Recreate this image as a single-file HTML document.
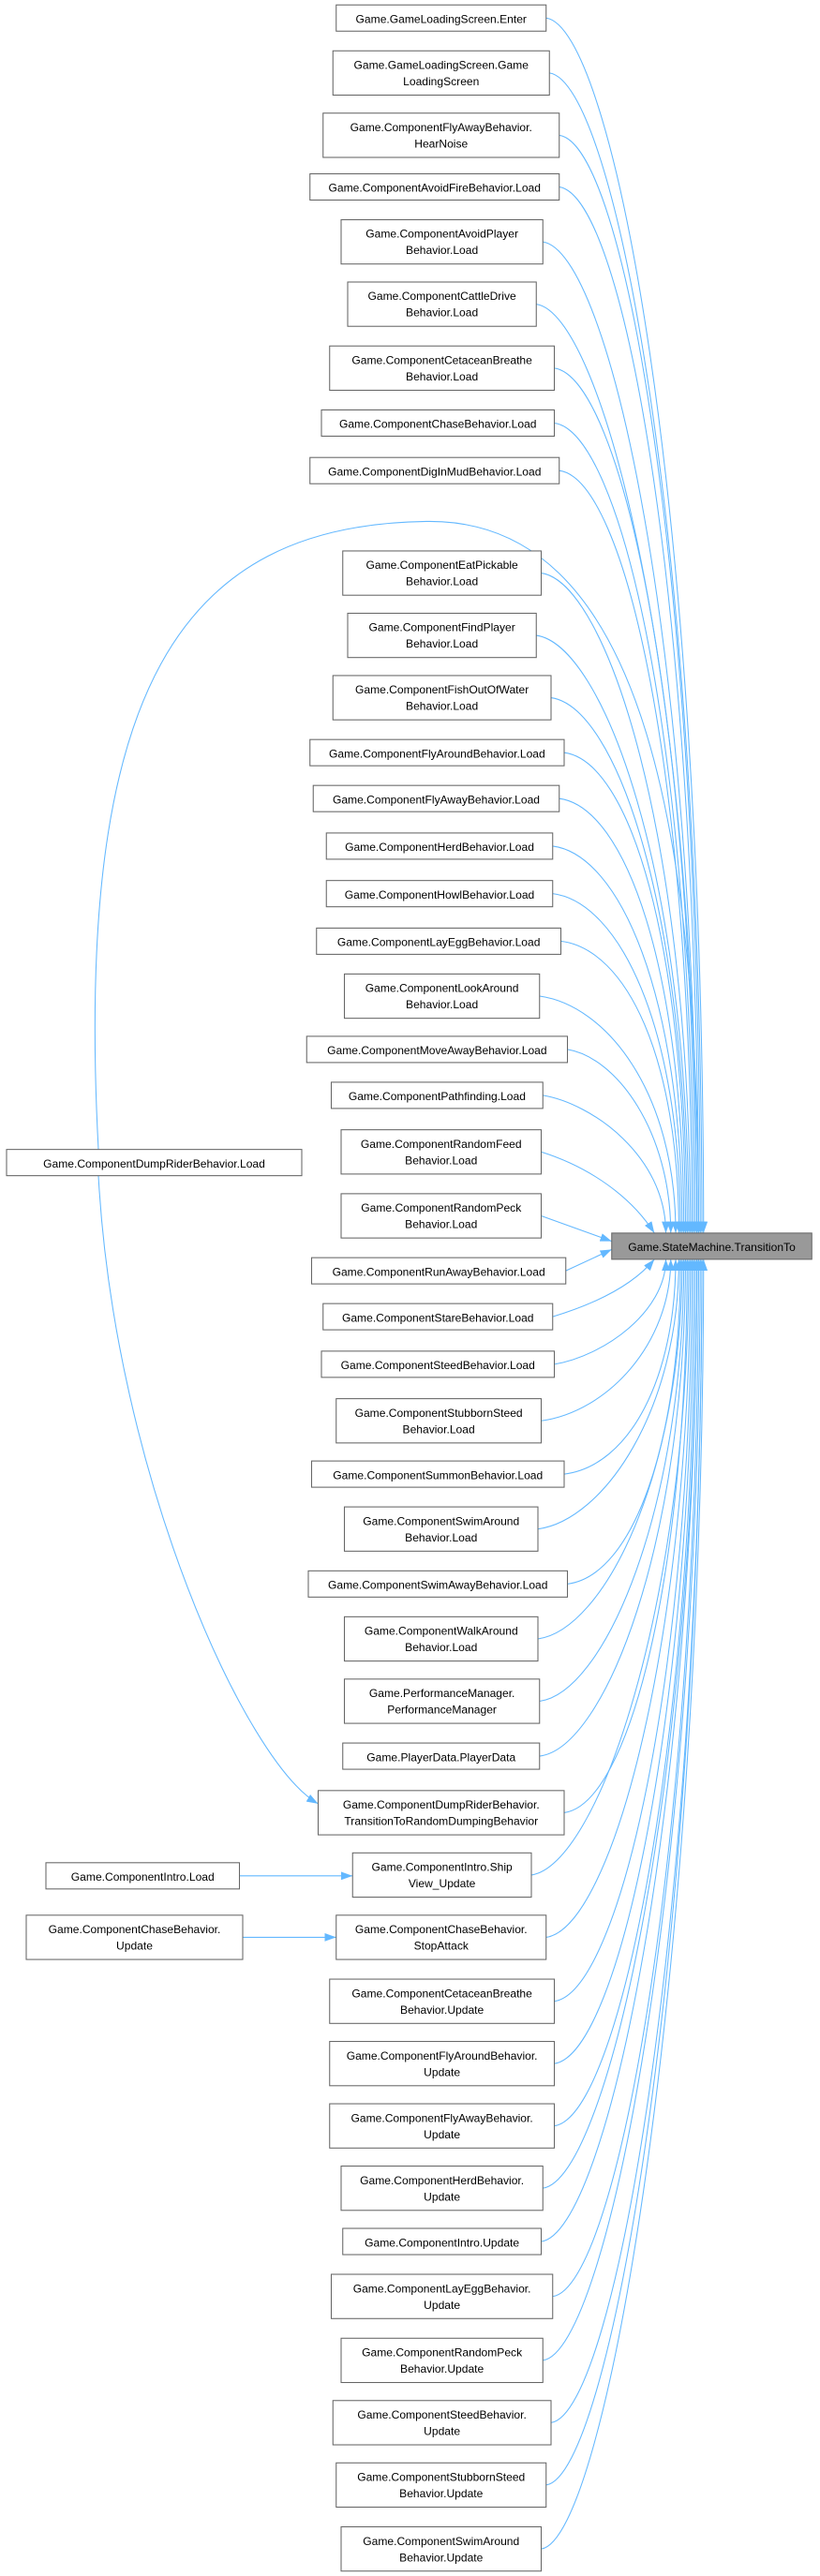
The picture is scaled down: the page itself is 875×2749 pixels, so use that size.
<!DOCTYPE html>
<html><head><meta charset="utf-8"><style>
html,body{margin:0;padding:0;background:#fff}
svg{display:block}
text{font-family:"Liberation Sans",sans-serif;font-size:6.9px;fill:#000;text-anchor:middle}
rect{fill:#fff;stroke:#666;stroke-width:0.6}
path.e{fill:none;stroke:#63b8ff;stroke-width:0.6}
</style></head><body>
<svg width="875" height="2749" viewBox="0 0 500 1571" preserveAspectRatio="none" xmlns="http://www.w3.org/2000/svg">
<defs><marker id="a" markerUnits="userSpaceOnUse" markerWidth="7" markerHeight="5" refX="7" refY="2.5" orient="auto"><path d="M0,0 L7,2.5 L0,5 z" fill="#63b8ff"/></marker></defs>
<g>
<path class="e" marker-end="url(#a)" d="M333,11 C373,16 429,300 429,752"/>
<path class="e" marker-end="url(#a)" d="M335,44.5 C375,50 428,330 428,752"/>
<path class="e" marker-end="url(#a)" d="M341,82.5 C381,88 427,350 427,752"/>
<path class="e" marker-end="url(#a)" d="M341,114 C381,120 426,370 426,752"/>
<path class="e" marker-end="url(#a)" d="M331,147.5 C371,153 425,390 425,752"/>
<path class="e" marker-end="url(#a)" d="M327,185.5 C367,191 425,410 425,752"/>
<path class="e" marker-end="url(#a)" d="M338,224.5 C378,230 424,430 424,752"/>
<path class="e" marker-end="url(#a)" d="M338,258 C378,263 423,450 423,752"/>
<path class="e" marker-end="url(#a)" d="M341,287 C381,292 422,470 422,752"/>
<path class="e" marker-end="url(#a)" d="M330,349.5 C370,355 421,510 421,752"/>
<path class="e" marker-end="url(#a)" d="M327,387.5 C367,393 420,530 420,752"/>
<path class="e" marker-end="url(#a)" d="M336,425.5 C376,431 419,555 419,752"/>
<path class="e" marker-end="url(#a)" d="M344,459 C384,464 418,575 418,752"/>
<path class="e" marker-end="url(#a)" d="M341,487 C381,492 417,590 417,752"/>
<path class="e" marker-end="url(#a)" d="M337,516 C377,521 416,605 416,752"/>
<path class="e" marker-end="url(#a)" d="M337,545 C377,550 415,625 415,752"/>
<path class="e" marker-end="url(#a)" d="M342,574 C382,579 414,645 414,752"/>
<path class="e" marker-end="url(#a)" d="M329,607.5 C369,613 412,665 412,752"/>
<path class="e" marker-end="url(#a)" d="M346,640 C376,645 409,690 409,752"/>
<path class="e" marker-end="url(#a)" d="M331,668 C361,673 406,705 406,752"/>
<path class="e" marker-end="url(#a)" d="M330,702.5 C360,712 385,730 399,752"/>
<path class="e" marker-end="url(#a)" d="M330,741.5 L373,757"/>
<path class="e" marker-end="url(#a)" d="M345,775 L373,762"/>
<path class="e" marker-end="url(#a)" d="M337,803 C360,796 385,785 399,768"/>
<path class="e" marker-end="url(#a)" d="M338,832 C368,827 406,800 406,768"/>
<path class="e" marker-end="url(#a)" d="M330,866.5 C370,861 409,820 409,768"/>
<path class="e" marker-end="url(#a)" d="M344,899 C384,894 412,840 412,768"/>
<path class="e" marker-end="url(#a)" d="M328,932.5 C368,927 414,860 414,768"/>
<path class="e" marker-end="url(#a)" d="M346,966 C386,961 415,880 415,768"/>
<path class="e" marker-end="url(#a)" d="M328,999.5 C368,994 416,900 416,768"/>
<path class="e" marker-end="url(#a)" d="M329,1037.5 C369,1032 417,920 417,768"/>
<path class="e" marker-end="url(#a)" d="M329,1071 C369,1066 418,940 418,768"/>
<path class="e" marker-end="url(#a)" d="M344,1105.5 C384,1100 419,960 419,768"/>
<path class="e" marker-end="url(#a)" d="M324,1143.5 C364,1138 420,980 420,768"/>
<path class="e" marker-end="url(#a)" d="M333,1181.5 C373,1176 421,1000 421,768"/>
<path class="e" marker-end="url(#a)" d="M338,1220.5 C378,1215 422,1020 422,768"/>
<path class="e" marker-end="url(#a)" d="M338,1258.5 C378,1253 423,1040 423,768"/>
<path class="e" marker-end="url(#a)" d="M338,1296.5 C378,1291 424,1060 424,768"/>
<path class="e" marker-end="url(#a)" d="M331,1334.5 C371,1329 425,1080 425,768"/>
<path class="e" marker-end="url(#a)" d="M330,1367 C370,1362 425,1100 425,768"/>
<path class="e" marker-end="url(#a)" d="M337,1400.5 C377,1395 426,1120 426,768"/>
<path class="e" marker-end="url(#a)" d="M331,1439.5 C371,1434 427,1140 427,768"/>
<path class="e" marker-end="url(#a)" d="M336,1477.5 C376,1472 428,1160 428,768"/>
<path class="e" marker-end="url(#a)" d="M333,1515.5 C373,1510 428,1180 428,768"/>
<path class="e" marker-end="url(#a)" d="M330,1554.5 C370,1549 429,1200 429,768"/>
<path class="e" marker-end="url(#a)" d="M60,701 C45,420 110,320 260,318 C390,316 426,500 426,752"/>
<path class="e" marker-end="url(#a)" d="M60,717 C70,900 150,1075 194,1100"/>
<path class="e" marker-end="url(#a)" d="M146,1144 L215,1144"/>
<path class="e" marker-end="url(#a)" d="M148,1181.5 L205,1181.5"/>
</g>
<g>
<rect x="205" y="3" width="128" height="16"/><text x="269" y="14">Game.GameLoadingScreen.Enter</text>
<rect x="203" y="31" width="132" height="27"/><text x="269" y="42">Game.GameLoadingScreen.Game</text><text x="269" y="52">LoadingScreen</text>
<rect x="197" y="69" width="144" height="27"/><text x="269" y="80">Game.ComponentFlyAwayBehavior.</text><text x="269" y="90">HearNoise</text>
<rect x="189" y="106" width="152" height="16"/><text x="265" y="117">Game.ComponentAvoidFireBehavior.Load</text>
<rect x="208" y="134" width="123" height="27"/><text x="269.5" y="145">Game.ComponentAvoidPlayer</text><text x="269.5" y="155">Behavior.Load</text>
<rect x="212" y="172" width="115" height="27"/><text x="269.5" y="183">Game.ComponentCattleDrive</text><text x="269.5" y="193">Behavior.Load</text>
<rect x="201" y="211" width="137" height="27"/><text x="269.5" y="222">Game.ComponentCetaceanBreathe</text><text x="269.5" y="232">Behavior.Load</text>
<rect x="196" y="250" width="142" height="16"/><text x="267" y="261">Game.ComponentChaseBehavior.Load</text>
<rect x="189" y="279" width="152" height="16"/><text x="265" y="290">Game.ComponentDigInMudBehavior.Load</text>
<rect x="209" y="336" width="121" height="27"/><text x="269.5" y="347">Game.ComponentEatPickable</text><text x="269.5" y="357">Behavior.Load</text>
<rect x="212" y="374" width="115" height="27"/><text x="269.5" y="385">Game.ComponentFindPlayer</text><text x="269.5" y="395">Behavior.Load</text>
<rect x="203" y="412" width="133" height="27"/><text x="269.5" y="423">Game.ComponentFishOutOfWater</text><text x="269.5" y="433">Behavior.Load</text>
<rect x="189" y="451" width="155" height="16"/><text x="266.5" y="462">Game.ComponentFlyAroundBehavior.Load</text>
<rect x="191" y="479" width="150" height="16"/><text x="266" y="490">Game.ComponentFlyAwayBehavior.Load</text>
<rect x="199" y="508" width="138" height="16"/><text x="268" y="519">Game.ComponentHerdBehavior.Load</text>
<rect x="199" y="537" width="138" height="16"/><text x="268" y="548">Game.ComponentHowlBehavior.Load</text>
<rect x="193" y="566" width="149" height="16"/><text x="267.5" y="577">Game.ComponentLayEggBehavior.Load</text>
<rect x="210" y="594" width="119" height="27"/><text x="269.5" y="605">Game.ComponentLookAround</text><text x="269.5" y="615">Behavior.Load</text>
<rect x="187" y="632" width="159" height="16"/><text x="266.5" y="643">Game.ComponentMoveAwayBehavior.Load</text>
<rect x="202" y="660" width="129" height="16"/><text x="266.5" y="671">Game.ComponentPathfinding.Load</text>
<rect x="208" y="689" width="122" height="27"/><text x="269" y="700">Game.ComponentRandomFeed</text><text x="269" y="710">Behavior.Load</text>
<rect x="208" y="728" width="122" height="27"/><text x="269" y="739">Game.ComponentRandomPeck</text><text x="269" y="749">Behavior.Load</text>
<rect x="190" y="767" width="155" height="16"/><text x="267.5" y="778">Game.ComponentRunAwayBehavior.Load</text>
<rect x="197" y="795" width="140" height="16"/><text x="267" y="806">Game.ComponentStareBehavior.Load</text>
<rect x="196" y="824" width="142" height="16"/><text x="267" y="835">Game.ComponentSteedBehavior.Load</text>
<rect x="205" y="853" width="125" height="27"/><text x="267.5" y="864">Game.ComponentStubbornSteed</text><text x="267.5" y="874">Behavior.Load</text>
<rect x="190" y="891" width="154" height="16"/><text x="267" y="902">Game.ComponentSummonBehavior.Load</text>
<rect x="210" y="919" width="118" height="27"/><text x="269" y="930">Game.ComponentSwimAround</text><text x="269" y="940">Behavior.Load</text>
<rect x="188" y="958" width="158" height="16"/><text x="267" y="969">Game.ComponentSwimAwayBehavior.Load</text>
<rect x="210" y="986" width="118" height="27"/><text x="269" y="997">Game.ComponentWalkAround</text><text x="269" y="1007">Behavior.Load</text>
<rect x="210" y="1024" width="119" height="27"/><text x="269.5" y="1035">Game.PerformanceManager.</text><text x="269.5" y="1045">PerformanceManager</text>
<rect x="209" y="1063" width="120" height="16"/><text x="269" y="1074">Game.PlayerData.PlayerData</text>
<rect x="194" y="1092" width="150" height="27"/><text x="269" y="1103">Game.ComponentDumpRiderBehavior.</text><text x="269" y="1113">TransitionToRandomDumpingBehavior</text>
<rect x="215" y="1130" width="109" height="27"/><text x="269.5" y="1141">Game.ComponentIntro.Ship</text><text x="269.5" y="1151">View_Update</text>
<rect x="205" y="1168" width="128" height="27"/><text x="269" y="1179">Game.ComponentChaseBehavior.</text><text x="269" y="1189">StopAttack</text>
<rect x="201" y="1207" width="137" height="27"/><text x="269.5" y="1218">Game.ComponentCetaceanBreathe</text><text x="269.5" y="1228">Behavior.Update</text>
<rect x="201" y="1245" width="137" height="27"/><text x="269.5" y="1256">Game.ComponentFlyAroundBehavior.</text><text x="269.5" y="1266">Update</text>
<rect x="201" y="1283" width="137" height="27"/><text x="269.5" y="1294">Game.ComponentFlyAwayBehavior.</text><text x="269.5" y="1304">Update</text>
<rect x="208" y="1321" width="123" height="27"/><text x="269.5" y="1332">Game.ComponentHerdBehavior.</text><text x="269.5" y="1342">Update</text>
<rect x="209" y="1359" width="121" height="16"/><text x="269.5" y="1370">Game.ComponentIntro.Update</text>
<rect x="202" y="1387" width="135" height="27"/><text x="269.5" y="1398">Game.ComponentLayEggBehavior.</text><text x="269.5" y="1408">Update</text>
<rect x="208" y="1426" width="123" height="27"/><text x="269.5" y="1437">Game.ComponentRandomPeck</text><text x="269.5" y="1447">Behavior.Update</text>
<rect x="203" y="1464" width="133" height="27"/><text x="269.5" y="1475">Game.ComponentSteedBehavior.</text><text x="269.5" y="1485">Update</text>
<rect x="205" y="1502" width="128" height="27"/><text x="269" y="1513">Game.ComponentStubbornSteed</text><text x="269" y="1523">Behavior.Update</text>
<rect x="208" y="1541" width="122" height="27"/><text x="269" y="1552">Game.ComponentSwimAround</text><text x="269" y="1562">Behavior.Update</text>
<rect x="373" y="752" width="122" height="16" style="fill:#999;stroke:#666"/><text x="434" y="763">Game.StateMachine.TransitionTo</text>
<rect x="4" y="701" width="180" height="16"/><text x="94" y="712">Game.ComponentDumpRiderBehavior.Load</text>
<rect x="28" y="1136" width="118" height="16"/><text x="87" y="1147">Game.ComponentIntro.Load</text>
<rect x="16" y="1168" width="132" height="27"/><text x="82" y="1179">Game.ComponentChaseBehavior.</text><text x="82" y="1189">Update</text>
</g>
</svg>
</body></html>
